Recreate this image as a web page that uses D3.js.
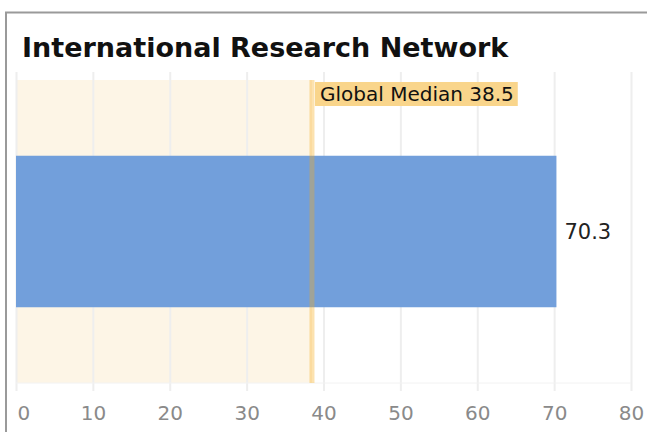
<!DOCTYPE html>
<html>
<head>
<meta charset="utf-8">
<script src="https://cdn.jsdelivr.net/npm/d3@7"></script>
<style>
  body { margin: 0; background: #fff; font-family: "DejaVu Sans", sans-serif; }
</style>
</head>
<body>
<div id="chart"></div>
<script>
// ---------------- DATA ----------------
var categories = ["International Research Network"];
var values = [70.3];
var medianValue = 38.5;
var medianLabel = "Global Median";
var xTicks = [0, 10, 20, 30, 40, 50, 60, 70, 80];

// ---------------- CANVAS ----------------
var svgWidth = 647, svgHeight = 432;
var margin = {left: 16, right: 16, top: 80, bottom: 49};
var chartWidth = svgWidth - margin.left - margin.right,
    chartHeight = svgHeight - margin.top - margin.bottom;

var svg = d3.select("#chart").append("svg")
  .attr("width", svgWidth)
  .attr("height", svgHeight);

// card border
svg.append("rect")
  .attr("x", 6).attr("y", 12.5)
  .attr("width", 650).attr("height", 440)
  .attr("fill", "none")
  .attr("stroke", "#9a9a9a")
  .attr("stroke-width", 2);

// title
svg.append("text")
  .attr("x", 22).attr("y", 57)
  .attr("font-size", 27).attr("font-weight", "bold")
  .attr("fill", "#111")
  .text(categories[0]);

var g = svg.append("g")
  .attr("transform", `translate(${margin.left}, ${margin.top})`);

// ---------------- SCALES ----------------
var x = d3.scaleLinear().domain([0, 80]).range([0, chartWidth]);
var y = d3.scaleBand().domain(categories).range([0, chartHeight])
  .paddingInner(0).paddingOuter(0.5);

// band below median
g.append("rect")
  .attr("x", x(0)).attr("y", 0)
  .attr("width", x(medianValue) - x(0))
  .attr("height", chartHeight)
  .attr("fill", "#fdf5e6");

// gridlines + ticks
g.append("g")
  .attr("transform", `translate(0, ${chartHeight})`)
  .call(d3.axisBottom(x).tickValues(xTicks).tickSize(-chartHeight - 8).tickPadding(0))
  .call(a => a.select(".domain").remove())
  .call(a => a.selectAll(".tick line")
    .attr("stroke", "#eeeeee").attr("stroke-width", 2)
    .attr("y1", 8))
  .call(a => a.selectAll(".tick text")
    .attr("y", 23)
    .attr("font-family", "DejaVu Sans, sans-serif")
    .attr("font-size", 20).attr("fill", "#8a8a8a"))
  // first label sits just right of the edge
  .call(a => a.select(".tick text").attr("text-anchor", "start").attr("x", 1));

// base line
g.append("line")
  .attr("x1", x(0)).attr("x2", chartWidth)
  .attr("y1", chartHeight).attr("y2", chartHeight)
  .attr("stroke", "#f2f2f2").attr("stroke-width", 1);

// bar
g.selectAll(".bar")
  .data(values)
  .enter().append("rect")
  .attr("class", "bar")
  .attr("x", x(0))
  .attr("y", (d, i) => y(categories[i]))
  .attr("width", d => x(d) - x(0))
  .attr("height", y.bandwidth())
  .attr("fill", "#729fdb");

// value label
g.selectAll(".val")
  .data(values)
  .enter().append("text")
  .attr("x", d => x(d) + 8)
  .attr("y", (d, i) => y(categories[i]) + y.bandwidth() / 2)
  .attr("dy", "0.35em")
  .attr("font-size", 21).attr("fill", "#222")
  .text(d => d);

// median line
g.append("line")
  .attr("x1", x(medianValue)).attr("x2", x(medianValue))
  .attr("y1", 0).attr("y2", chartHeight)
  .attr("stroke", "#f7ac1b").attr("stroke-opacity", 0.35)
  .attr("stroke-width", 5);

// median label
var lbl = g.append("g")
  .attr("transform", `translate(${x(medianValue) + 3}, 2)`);
var lblText = lbl.append("text")
  .attr("x", 5).attr("y", 12)
  .attr("dy", "0.35em")
  .attr("font-size", 20).attr("fill", "#111")
  .text(medianLabel + " " + medianValue);
var bb = lblText.node().getBBox();
lbl.insert("rect", "text")
  .attr("x", 0).attr("y", 0)
  .attr("width", bb.width + 9).attr("height", 24)
  .attr("fill", "#f9d58b");
</script>
</body>
</html>
